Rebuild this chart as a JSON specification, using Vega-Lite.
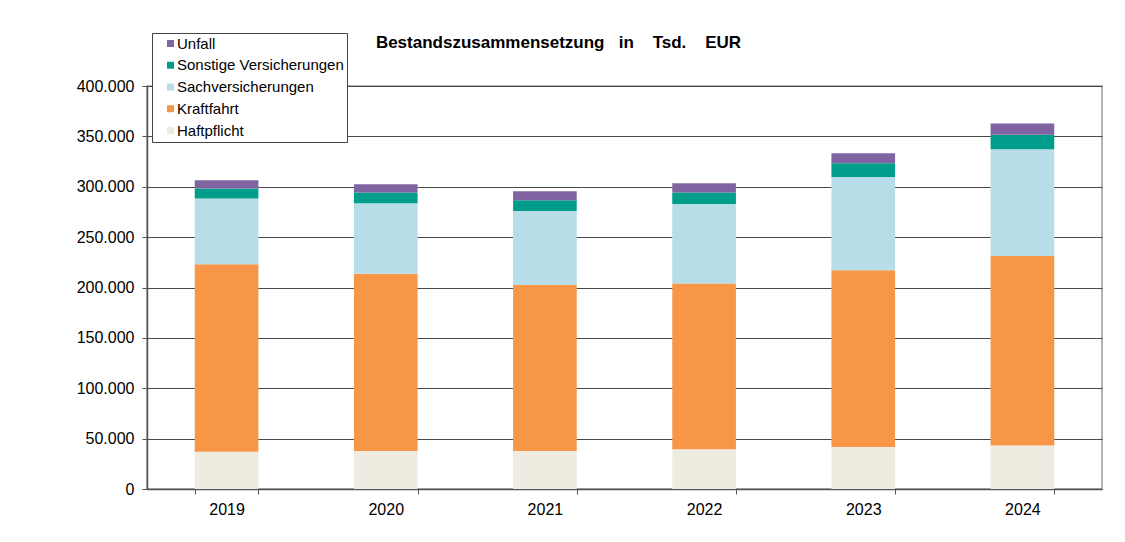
{
  "$schema": "https://vega.github.io/schema/vega-lite/v6.json",
  "width": 955,
  "height": 403,
  "autosize": "none",
  "padding": {"left": 147, "top": 86, "right": 23, "bottom": 53},
  "background": "white",
  "title": {
    "text": "Bestandszusammensetzung\u00a0\u00a0 in\u00a0\u00a0\u00a0 Tsd.\u00a0\u00a0\u00a0 EUR",
    "font": "Liberation Sans",
    "fontSize": 17,
    "fontWeight": "bold",
    "color": "#000000",
    "anchor": "middle",
    "frame": "group",
    "dx": -66,
    "offset": -19
  },
  "data": {
    "values": [
      {"Jahr": "2019", "Sparte": "Haftpflicht", "Wert": 37000},
      {"Jahr": "2019", "Sparte": "Kraftfahrt", "Wert": 186000},
      {"Jahr": "2019", "Sparte": "Sachversicherungen", "Wert": 65300},
      {"Jahr": "2019", "Sparte": "Sonstige Versicherungen", "Wert": 9900},
      {"Jahr": "2019", "Sparte": "Unfall", "Wert": 8300},
      {"Jahr": "2020", "Sparte": "Haftpflicht", "Wert": 37800},
      {"Jahr": "2020", "Sparte": "Kraftfahrt", "Wert": 175900},
      {"Jahr": "2020", "Sparte": "Sachversicherungen", "Wert": 69900},
      {"Jahr": "2020", "Sparte": "Sonstige Versicherungen", "Wert": 10600},
      {"Jahr": "2020", "Sparte": "Unfall", "Wert": 8300},
      {"Jahr": "2021", "Sparte": "Haftpflicht", "Wert": 37800},
      {"Jahr": "2021", "Sparte": "Kraftfahrt", "Wert": 164600},
      {"Jahr": "2021", "Sparte": "Sachversicherungen", "Wert": 73600},
      {"Jahr": "2021", "Sparte": "Sonstige Versicherungen", "Wert": 10600},
      {"Jahr": "2021", "Sparte": "Unfall", "Wert": 8900},
      {"Jahr": "2022", "Sparte": "Haftpflicht", "Wert": 39400},
      {"Jahr": "2022", "Sparte": "Kraftfahrt", "Wert": 164600},
      {"Jahr": "2022", "Sparte": "Sachversicherungen", "Wert": 78900},
      {"Jahr": "2022", "Sparte": "Sonstige Versicherungen", "Wert": 11300},
      {"Jahr": "2022", "Sparte": "Unfall", "Wert": 9300},
      {"Jahr": "2023", "Sparte": "Haftpflicht", "Wert": 41700},
      {"Jahr": "2023", "Sparte": "Kraftfahrt", "Wert": 175300},
      {"Jahr": "2023", "Sparte": "Sachversicherungen", "Wert": 92700},
      {"Jahr": "2023", "Sparte": "Sonstige Versicherungen", "Wert": 13600},
      {"Jahr": "2023", "Sparte": "Unfall", "Wert": 10000},
      {"Jahr": "2024", "Sparte": "Haftpflicht", "Wert": 43300},
      {"Jahr": "2024", "Sparte": "Kraftfahrt", "Wert": 187900},
      {"Jahr": "2024", "Sparte": "Sachversicherungen", "Wert": 106100},
      {"Jahr": "2024", "Sparte": "Sonstige Versicherungen", "Wert": 14200},
      {"Jahr": "2024", "Sparte": "Unfall", "Wert": 11300}
    ]
  },
  "mark": {"type": "bar"},
  "encoding": {
    "x": {
      "field": "Jahr",
      "type": "ordinal",
      "scale": {"paddingInner": 0.6, "paddingOuter": 0.3},
      "axis": {
        "title": null,
        "labelAngle": 0,
        "tickBand": "extent",
        "tickSize": 5,
        "labelPadding": 7,
        "labelFontSize": 16,
        "domainColor": "#555555",
        "tickColor": "#555555",
        "domainWidth": 1.5
      }
    },
    "y": {
      "field": "Wert",
      "type": "quantitative",
      "stack": "zero",
      "scale": {"domain": [0, 400000], "nice": false},
      "axis": {
        "title": null,
        "values": [0, 50000, 100000, 150000, 200000, 250000, 300000, 350000, 400000],
        "labelExpr": "replace(format(datum.value, ',.0f'), ',', '.')",
        "tickSize": 5,
        "labelPadding": 8,
        "labelFontSize": 16,
        "grid": true,
        "gridColor": "#4a4a4a",
        "gridWidth": 1,
        "domainColor": "#555555",
        "domainWidth": 1.5,
        "tickColor": "#555555"
      }
    },
    "color": {
      "field": "Sparte",
      "type": "nominal",
      "scale": {
        "domain": ["Unfall", "Sonstige Versicherungen", "Sachversicherungen", "Kraftfahrt", "Haftpflicht"],
        "range": ["#8064a2", "#009e8a", "#b7dde8", "#f79646", "#eeece1"]
      },
      "legend": {
        "title": null,
        "orient": "none",
        "legendX": 5,
        "legendY": -53,
        "fillColor": "white",
        "strokeColor": "#444444",
        "padding": 3,
        "symbolType": "square",
        "symbolSize": 49,
        "symbolStrokeWidth": 0,
        "symbolOffset": 8,
        "labelOffset": -1,
        "labelFontSize": 15,
        "labelLimit": 400,
        "labelFont": "Liberation Sans",
        "labelColor": "#000000",
        "rowPadding": 5.75
      }
    },
    "order": {"field": "Sparte", "sort": "ascending"}
  },
  "config": {
    "view": {"stroke": "#9a9a9a", "strokeWidth": 1.5},
    "axis": {"labelFont": "Liberation Sans", "labelColor": "#000000"}
  }
}
